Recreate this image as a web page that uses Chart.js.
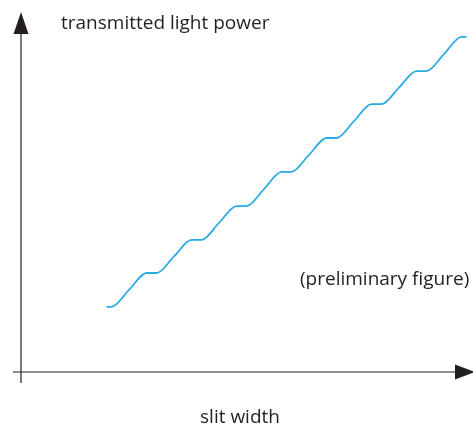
<!DOCTYPE html>
<html>
<head>
<meta charset="utf-8">
<script src="https://cdn.jsdelivr.net/npm/chart.js@4"></script>
<style>
    html, body { margin: 0; padding: 0; background: #ffffff; }
    #wrap { position: relative; width: 473px; height: 427px; }
</style>
</head>
<body>
<div id="wrap"><canvas id="slitChart" width="473" height="427"></canvas></div>
<script>
// Curve (arbitrary units, 0..100 on both axes)
const slitWidth = [19, 20.1, 24, 27.9, 30.1, 34, 37.9, 40.1, 44, 47.9, 50.1, 54, 57.9, 60.1, 64, 67.9, 70.1, 74, 77.9, 80.1, 84, 87.9, 90.1, 94, 97.9, 99];
const lightPower = [18.1, 18.1, 22.8, 27.5, 27.5, 32.1, 36.7, 36.7, 41.4, 46.1, 46.1, 50.8, 55.6, 55.6, 60.3, 65.0, 65.0, 69.7, 74.4, 74.4, 79.0, 83.6, 83.6, 88.3, 93.1, 93.1];

const xLabel = 'slit width';
const yLabel = 'transmitted light power';
const noteText = '(preliminary figure)';

const FONT = '"Open Sans", "DejaVu Sans", sans-serif';

// Draws the arrowed axes and the free text labels
const axesPlugin = {
    id: 'arrowAxes',
    afterDraw(chart) {
        const { ctx, chartArea } = chart;
        const x0 = chartArea.left;
        const y0 = chartArea.bottom;

        ctx.save();
        ctx.strokeStyle = '#231f20';
        ctx.fillStyle = '#231f20';
        ctx.lineWidth = 1.2;

        // y axis (runs a bit below the x axis)
        ctx.beginPath();
        ctx.moveTo(x0, y0 + 11);
        ctx.lineTo(x0, chartArea.top + 20);
        ctx.stroke();
        ctx.beginPath();
        ctx.moveTo(x0, chartArea.top);
        ctx.lineTo(x0 - 7.5, chartArea.top + 22);
        ctx.lineTo(x0 + 7.5, chartArea.top + 22);
        ctx.closePath();
        ctx.fill();

        // x axis (starts a bit left of the y axis)
        ctx.beginPath();
        ctx.moveTo(x0 - 8, y0);
        ctx.lineTo(chartArea.right - 14, y0);
        ctx.stroke();
        ctx.beginPath();
        ctx.moveTo(chartArea.right + 4, y0);
        ctx.lineTo(chartArea.right - 16, y0 - 7.5);
        ctx.lineTo(chartArea.right - 16, y0 + 7.5);
        ctx.closePath();
        ctx.fill();

        // labels
        ctx.fillStyle = '#231f20';
        ctx.font = '19px ' + FONT;
        ctx.textBaseline = 'alphabetic';
        ctx.textAlign = 'left';
        ctx.fillText(yLabel, 61, 29);
        ctx.fillText(noteText, 300, 285);
        ctx.textAlign = 'center';
        ctx.fillText(xLabel, 240, 423);
        ctx.restore();
    }
};

const points = slitWidth.map((x, i) => ({ x: x, y: lightPower[i] }));

new Chart(document.getElementById('slitChart'), {
    type: 'scatter',
    data: {
        datasets: [{
            data: points,
            showLine: true,
            borderColor: '#29abe2',
            borderWidth: 1.8,
            pointRadius: 0,
            cubicInterpolationMode: 'monotone',
            fill: false
        }]
    },
    options: {
        responsive: false,
        animation: false,
        layout: { padding: { left: 21, right: 2, top: 12, bottom: 55 } },
        plugins: {
            legend: { display: false },
            tooltip: { enabled: false }
        },
        scales: {
            x: { type: 'linear', min: 0, max: 100, display: false },
            y: { type: 'linear', min: 0, max: 100, display: false }
        }
    },
    plugins: [axesPlugin]
});
</script>
</body>
</html>
